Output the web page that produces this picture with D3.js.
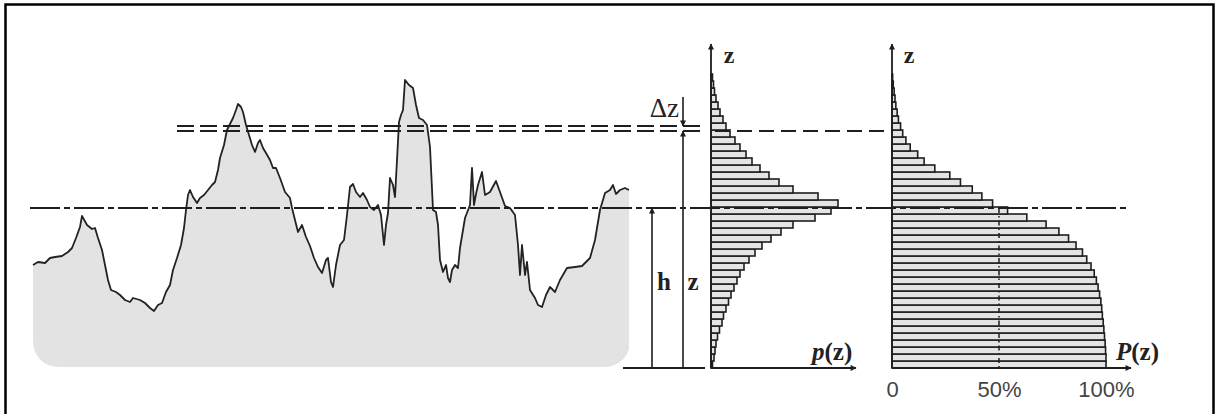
<!DOCTYPE html>
<html>
<head>
<meta charset="utf-8">
<script src="https://cdn.jsdelivr.net/npm/d3@7"></script>
<style>
  html, body { margin: 0; padding: 0; background: #fff; }
  svg { display: block; }
  .serif { font-family: "Liberation Serif", "DejaVu Serif", serif; fill: #222; }
  .tick text { font-family: "Liberation Sans", Arial, sans-serif; font-size: 22px; fill: #444; }
</style>
</head>
<body>
<svg id="chart" width="1219" height="414"></svg>
<script>
// Surface profile: position along the trace and height above the datum
const profileX = [0,5,12,17,22,29,35,39,43,47,49,54,59,62,65,69,72,75,78,83,87,92,97,100,107,112,117,121,125,129,133,137,140,144,148,151,153,155,157,160,164,167,171,175,179,182,185,187,191,194,197,200,203,205,208,210,213,216,219,222,225,227,230,233,237,240,243,247,252,257,259,262,265,269,273,277,281,285,289,293,295,298,300,303,307,311,314,317,320,323,327,330,334,337,341,345,348,351,353,355,357,360,362,364,366,368,370,372,376,380,383,386,390,394,397,400,403,405,407,410,413,415,417,419,422,425,427,432,437,439,441,443,445,449,452,457,463,467,472,477,482,485,487,489,492,494,497,502,505,509,513,517,522,527,534,542,549,557,562,567,572,577,580,583,587,592,596];
const profileZ = [103,106,105,110,111,112,116,120,130,141,152,143,139,140,130,118,103,88,78,76,73,68,66,70,68,65,60,57,63,65,76,83,98,110,123,140,158,173,178,171,165,170,173,178,183,186,198,210,223,238,244,250,258,264,261,256,243,233,223,216,225,228,220,215,208,200,200,190,176,170,160,148,136,143,131,122,110,101,95,108,110,86,81,103,123,128,153,181,184,176,171,175,168,161,158,163,153,123,143,155,190,183,171,208,246,253,258,288,283,280,263,250,248,243,221,158,156,143,108,96,103,90,86,98,103,100,120,150,163,200,163,174,183,196,173,176,187,176,162,160,153,123,93,123,93,106,78,70,63,61,73,81,76,88,100,101,102,110,128,158,175,178,183,174,178,180,178];

// Reference levels
const meanLevel = 160;     // h
const cutLevel = 237;      // z
const cutLevelTop = 242;   // z + Δz
const binWidth = 7;        // Δz

// Height distribution p(z), one value per class from the bottom up
const densityValues = [1.5,3,4,5,6.5,8.5,11,12.5,15,17.5,20,23,26,29,33,38,44,51,60,70,82,104,120,127,107,82,68,58,49,41,35,29,24,19,15,12,9,7,5,3.5,2.5,1.5];
// Bearing ratio P(z) in percent, same classes
const bearingValues = [100,100,99.8,99.6,99.3,99,98.7,98.3,98,97.6,97,96.3,95.5,94.5,93,91,89,86,82.5,78,72,63,54,47,42,37.5,32,27,20,15,12,8.5,6.5,5,4,3,2.4,1.8,1.4,1,0.6,0.3];
const bearingTicks = [0, 50, 100];

const svg = d3.select("#chart");
const ink = "#1e1e1e";

// Scales
const zScale = d3.scaleLinear().domain([0, 322]).range([368, 46]);
const xProfile = d3.scaleLinear().domain([0, 596]).range([33, 629]);
const pScale = d3.scaleLinear().domain([0, 130]).range([711, 841]);
const cScale = d3.scaleLinear().domain([0, 100]).range([892, 1106]);

// Arrow markers
const defs = svg.append("defs");
defs.append("marker")
  .attr("id", "arrow")
  .attr("viewBox", "0 0 10 10")
  .attr("refX", 9).attr("refY", 5)
  .attr("markerWidth", 8).attr("markerHeight", 6)
  .attr("markerUnits", "userSpaceOnUse")
  .attr("orient", "auto")
  .append("path").attr("d", "M0,0 L10,5 L0,10 Z").attr("fill", ink);

defs.append("clipPath").attr("id", "panelClip")
  .append("rect")
  .attr("x", 33).attr("y", 0)
  .attr("width", 597).attr("height", 367)
  .attr("rx", 25).attr("ry", 25);

// Frame
svg.append("rect")
  .attr("x", 5.5).attr("y", 4.5)
  .attr("width", 1208).attr("height", 430)
  .attr("fill", "none").attr("stroke", "#000").attr("stroke-width", 2.5);

// Profile filled down to the datum
const pts = profileX.map((x, i) => [x, profileZ[i]]);
svg.append("path")
  .datum(pts)
  .attr("clip-path", "url(#panelClip)")
  .attr("fill", "#e3e3e3")
  .attr("d", d3.area().x(d => xProfile(d[0])).y0(zScale(-20)).y1(d => zScale(d[1])));

svg.append("path")
  .datum(pts)
  .attr("fill", "none")
  .attr("stroke", "#222")
  .attr("stroke-width", 1.8)
  .attr("stroke-linejoin", "round")
  .attr("d", d3.line().x(d => xProfile(d[0])).y(d => zScale(d[1])));

// Histogram p(z)
svg.append("g").selectAll("rect")
  .data(densityValues)
  .join("rect")
  .attr("x", pScale(0))
  .attr("y", (d, i) => zScale(binWidth * (i + 1)))
  .attr("width", d => pScale(d) - pScale(0))
  .attr("height", (d, i) => zScale(binWidth * i) - zScale(binWidth * (i + 1)))
  .attr("fill", "#e4e4e4")
  .attr("stroke", ink)
  .attr("stroke-width", 1.6);

// Bearing ratio P(z)
svg.append("g").selectAll("rect")
  .data(bearingValues)
  .join("rect")
  .attr("x", cScale(0))
  .attr("y", (d, i) => zScale(binWidth * (i + 1)))
  .attr("width", d => cScale(d) - cScale(0))
  .attr("height", (d, i) => zScale(binWidth * i) - zScale(binWidth * (i + 1)))
  .attr("fill", "#e4e4e4")
  .attr("stroke", ink)
  .attr("stroke-width", 1.6);

// Mean line h (dash-dot)
svg.append("line")
  .attr("x1", 30).attr("x2", 1130)
  .attr("y1", zScale(meanLevel)).attr("y2", zScale(meanLevel))
  .attr("stroke", ink).attr("stroke-width", 1.8)
  .attr("stroke-dasharray", "30,4,6,4");

// Cut levels z and z + Δz
[cutLevel, cutLevelTop].forEach(lv => {
  svg.append("line")
    .attr("x1", 177).attr("x2", 706)
    .attr("y1", zScale(lv)).attr("y2", zScale(lv))
    .attr("stroke", ink).attr("stroke-width", 1.8)
    .attr("stroke-dasharray", "17,6");
});
svg.append("line")
  .attr("x1", 715).attr("x2", 892)
  .attr("y1", zScale(cutLevel)).attr("y2", zScale(cutLevel))
  .attr("stroke", ink).attr("stroke-width", 1.8)
  .attr("stroke-dasharray", "15,7");

// 50 % guide
svg.append("line")
  .attr("x1", cScale(50)).attr("x2", cScale(50))
  .attr("y1", zScale(meanLevel)).attr("y2", zScale(0))
  .attr("stroke", ink).attr("stroke-width", 1.5)
  .attr("stroke-dasharray", "5,3,1.5,3");

// Datum line
svg.append("line")
  .attr("x1", 623).attr("x2", 705)
  .attr("y1", zScale(0)).attr("y2", zScale(0))
  .attr("stroke", ink).attr("stroke-width", 1.8);

// Dimension arrows h, z and Δz
function vArrow(x, yFrom, yTo) {
  svg.append("line")
    .attr("x1", x).attr("x2", x)
    .attr("y1", yFrom).attr("y2", yTo)
    .attr("stroke", ink).attr("stroke-width", 1.6)
    .attr("marker-end", "url(#arrow)");
}
vArrow(652, zScale(0), zScale(meanLevel));
vArrow(683, zScale(0), zScale(cutLevel));
vArrow(683, 97, zScale(cutLevelTop));

// Axes of the two distribution panels
function axisPair(x0, xEnd) {
  svg.append("line")
    .attr("x1", x0).attr("x2", x0)
    .attr("y1", zScale(0)).attr("y2", 44)
    .attr("stroke", ink).attr("stroke-width", 1.8)
    .attr("marker-end", "url(#arrow)");
  svg.append("line")
    .attr("x1", x0).attr("x2", xEnd)
    .attr("y1", zScale(0)).attr("y2", zScale(0))
    .attr("stroke", ink).attr("stroke-width", 1.8)
    .attr("marker-end", "url(#arrow)");
}
axisPair(pScale(0), 856);
axisPair(cScale(0), 1131);

// Percentage ticks
const axisG = svg.append("g")
  .attr("transform", `translate(0,${zScale(0)})`)
  .call(d3.axisBottom(cScale)
    .tickValues(bearingTicks)
    .tickSize(0)
    .tickPadding(8)
    .tickFormat(d => d === 0 ? "0" : d + "%"));
axisG.select(".domain").remove();
axisG.selectAll(".tick text").attr("dy", "0.95em");

// Labels
const label = (x, y, txt, size, anchor) => svg.append("text")
  .attr("class", "serif")
  .attr("x", x).attr("y", y)
  .attr("text-anchor", anchor || "middle")
  .attr("font-size", size)
  .attr("font-weight", "bold")
  .text(txt);

label(729, 63, "z", 24);
label(909, 63, "z", 24);
label(664, 290, "h", 25);
label(693, 290, "z", 25);

svg.append("text")
  .attr("class", "serif")
  .attr("x", 679).attr("y", 117)
  .attr("text-anchor", "end")
  .style("font-size", "27px")
  .text("Δz");

function funcLabel(x, y, letter) {
  const t = svg.append("text")
    .attr("class", "serif")
    .attr("x", x).attr("y", y)
    .attr("font-size", 25)
    .attr("font-weight", "bold");
  t.append("tspan").attr("font-style", "italic").text(letter);
  t.append("tspan").text("(z)");
}
funcLabel(812, 360, "p");
funcLabel(1116, 360, "P");
</script>
</body>
</html>
